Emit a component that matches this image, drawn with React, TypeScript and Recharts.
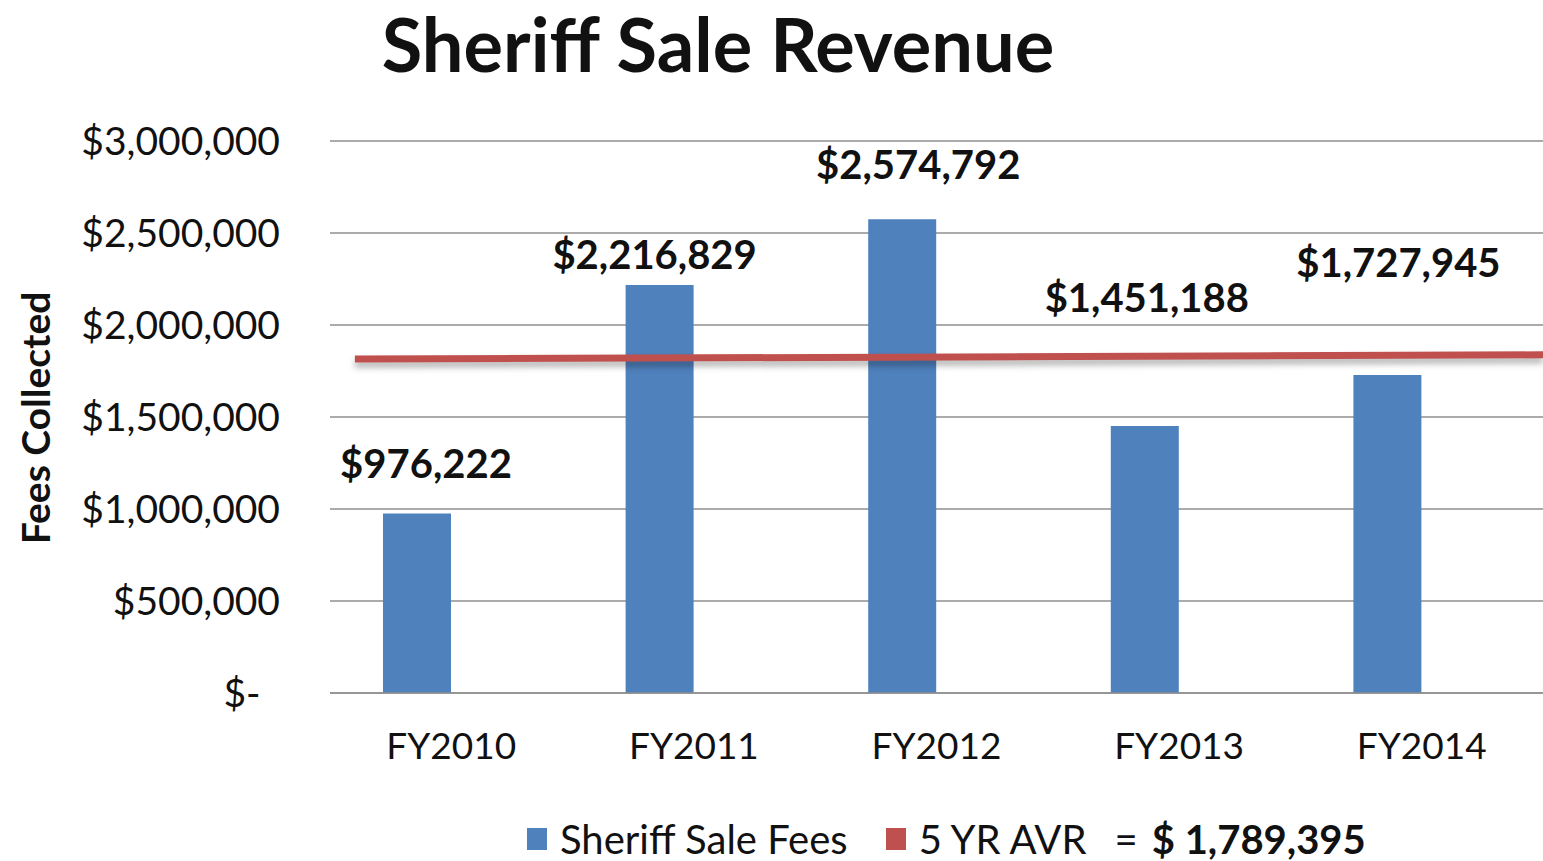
import React from 'react';
import {
  BarChart,
  Bar,
  XAxis,
  YAxis,
  CartesianGrid,
  Legend,
  LabelList,
  ReferenceLine
} from 'recharts';

const categories = ['FY2010', 'FY2011', 'FY2012', 'FY2013', 'FY2014'];
const sheriffSaleFees = [976222, 2216829, 2574792, 1451188, 1727945];
const fiveYearAverage = 1789395;
// the red line in the picture is a hand placed shape, a bit above the average
const averageLineEnds = [1815000, 1838000];
const yTicks = [0, 500000, 1000000, 1500000, 2000000, 2500000, 3000000];
const legendOrder = ['fees', 'avg'];

// label nudges (px) so the value labels sit where the original put them
const labelDx = [9, -5, 16, 2, 11];
const labelDy = [50, 31, 55, 129, 113];

const FONT = 'Lato, "Open Sans", sans-serif';
const BLUE = '#4F81BD';
const RED = '#C0504D';

const data = categories.map((name, i) => ({
  name,
  idx: i,
  fees: sheriffSaleFees[i],
  avg: null as number | null
}));

const money = (v: number) => '$' + v.toLocaleString('en-US');

const formatTick = (v: number) => (v === 0 ? '$-\u2002' : money(v));

const ValueLabel = (props: any) => {
  const { x, y, width, value, index } = props;
  return (
    <text
      x={x + width / 2 + labelDx[index]}
      y={y - labelDy[index]}
      textAnchor="middle"
      dominantBaseline="central"
      fontFamily={FONT}
      fontWeight={700}
      fontSize={40}
      fill="#111"
    >
      {money(value)}
    </text>
  );
};

const LegendContent = ({ payload }: any) => {
  const items = [...(payload || [])].sort(
    (a: any, b: any) => legendOrder.indexOf(a.dataKey) - legendOrder.indexOf(b.dataKey)
  );
  return (
    <div
      style={{
        display: 'flex',
        alignItems: 'center',
        height: 44,
        fontFamily: FONT,
        fontSize: 40,
        color: '#111',
        whiteSpace: 'nowrap'
      }}
    >
      {items.map((item: any) => (
        <span key={item.value} style={{ display: 'flex', alignItems: 'center', marginRight: 38 }}>
          <span style={{ width: 20, height: 22, background: item.color, marginRight: 13 }} />
          <span>{item.value}</span>
          {item.dataKey === 'avg' && (
            <>
              <span style={{ marginLeft: 28, marginRight: 14 }}>=</span>
              <span style={{ fontWeight: 700 }}>$ {fiveYearAverage.toLocaleString('en-US')}</span>
            </>
          )}
        </span>
      ))}
    </div>
  );
};

export default function App() {
  return (
    <div style={{ position: 'absolute', left: 0, top: 0, width: 1543, height: 861, background: '#fff' }}>
      <div
        style={{
          position: 'absolute',
          left: 0,
          top: 0,
          width: 1436,
          textAlign: 'center',
          fontFamily: FONT,
          fontWeight: 700,
          fontSize: 74,
          lineHeight: '88px',
          color: '#111'
        }}
      >
        Sheriff Sale Revenue
      </div>
      <BarChart
        width={1543}
        height={861}
        data={data}
        margin={{ top: 141, right: 0, bottom: 0, left: 0 }}
        barGap={0}
      >
        <CartesianGrid vertical={false} stroke="#8f8f8f" strokeWidth={1.5} />
        <XAxis
          dataKey="name"
          height={124}
          tickLine={false}
          tickSize={0}
          tickMargin={40}
          stroke="#8f8f8f"
          strokeWidth={1.5}
          tick={{ fill: '#111', fontFamily: FONT, fontSize: 37 }}
        />
        <XAxis
          xAxisId="line"
          dataKey="idx"
          type="number"
          domain={[0, categories.length - 1]}
          allowDataOverflow
          hide
        />
        <YAxis
          width={330}
          domain={[0, 3000000]}
          ticks={yTicks}
          tickFormatter={formatTick}
          axisLine={false}
          tickLine={false}
          tickSize={0}
          tickMargin={50}
          tick={{ fill: '#111', fontFamily: FONT, fontSize: 39 }}
          label={{
            content: () => (
              <text
                x={35}
                y={418}
                transform="rotate(-90 35 418)"
                textAnchor="middle"
                dominantBaseline="central"
                fontFamily={FONT}
                fontWeight={700}
                fontSize={39}
                fill="#111"
              >
                Fees Collected
              </text>
            )
          }}
        />
        <Legend
          verticalAlign="bottom"
          content={<LegendContent />}
          wrapperStyle={{ left: 527, width: 'auto' }}
        />
        <Bar dataKey="fees" name="Sheriff Sale Fees" fill={BLUE} barSize={68} isAnimationActive={false}>
          <LabelList dataKey="fees" content={<ValueLabel />} />
        </Bar>
        <Bar dataKey="avg" name="5 YR AVR" fill={RED} barSize={68} isAnimationActive={false} />
        <ReferenceLine
          xAxisId="line"
          segment={[
            { x: 0.082, y: averageLineEnds[0] },
            { x: categories.length - 1, y: averageLineEnds[1] }
          ]}
          stroke={RED}
          strokeWidth={7}
          style={{ filter: 'drop-shadow(0px 5px 3px rgba(0,0,0,0.3))' }}
        />
      </BarChart>
    </div>
  );
}
